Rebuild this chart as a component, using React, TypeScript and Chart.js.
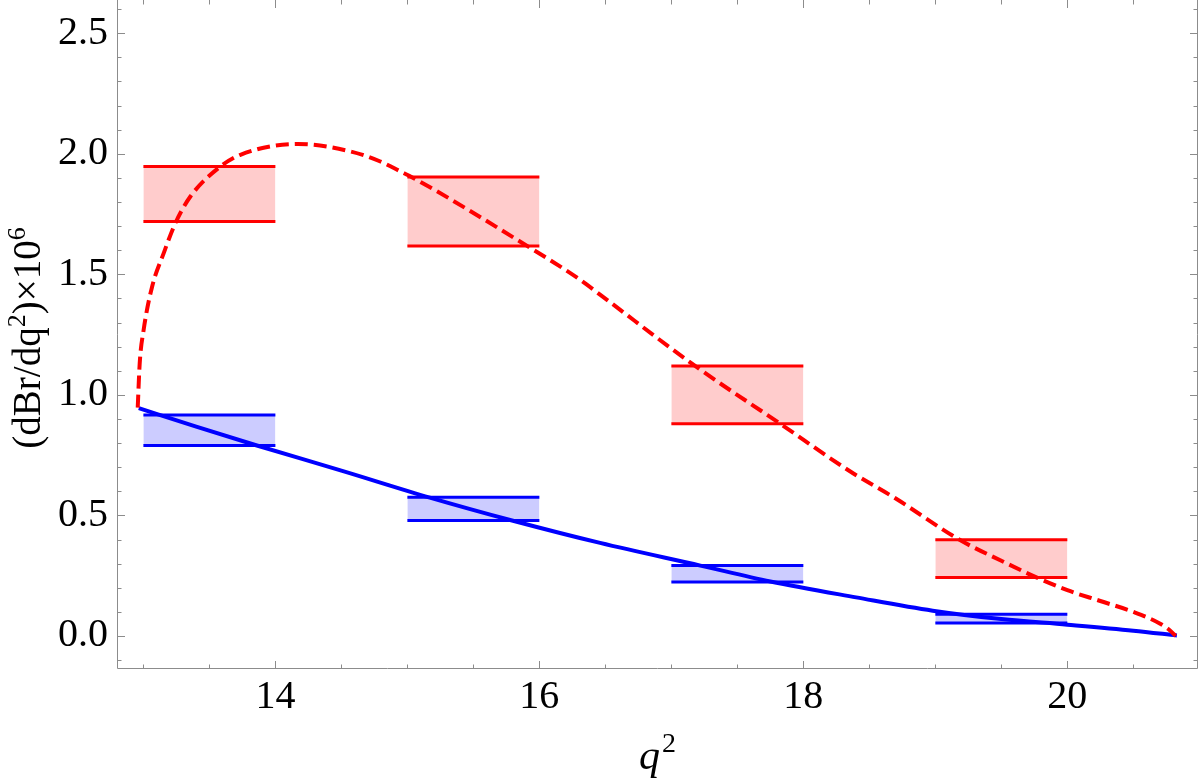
import React, { useEffect, useRef } from 'react';
import { Chart, registerables } from 'chart.js';

Chart.register(...registerables);

// ---- data ----
const binEdges: number[][] = [
  [13, 14],
  [15, 16],
  [17, 18],
  [19, 20],
];
const redUpper = [1.947, 1.904, 1.12, 0.399];
const redLower = [1.719, 1.618, 0.88, 0.243];
const blueUpper = [0.917, 0.575, 0.292, 0.09];
const blueLower = [0.79, 0.479, 0.224, 0.054];

const redCurveQ2 = [
  12.957, 12.972, 13.002, 13.066, 13.154, 13.242, 13.356, 13.583, 13.735, 14.17,
  14.568, 14.795, 14.947, 15.048, 15.907, 16.31, 16.462, 17.18, 17.826, 18.356,
  18.697, 19.19, 19.5, 19.77, 20.0, 20.25, 20.5, 20.7, 20.78, 20.82,
];
const redCurveVal = [
  0.947, 1.131, 1.27, 1.449, 1.588, 1.712, 1.823, 1.947, 1.996, 2.041,
  2.01, 1.968, 1.927, 1.899, 1.618, 1.477, 1.415, 1.12, 0.88, 0.682,
  0.571, 0.397, 0.312, 0.242, 0.19, 0.145, 0.1, 0.052, 0.022, 0.0,
];

const blueCurveQ2 = [
  12.965, 13.4, 13.86, 14.5, 15.17, 15.8, 16.46, 17.22, 17.75, 18.4,
  18.98, 19.5, 20.0, 20.5, 20.83,
];
const blueCurveVal = [
  0.945, 0.868, 0.79, 0.686, 0.574, 0.478, 0.386, 0.292, 0.226, 0.16,
  0.105, 0.07, 0.047, 0.022, 0.002,
];

const xMajorTicks = [14, 16, 18, 20];
const yMajorTicks = [0, 0.5, 1.0, 1.5, 2.0, 2.5];
const xRange = [12.8, 20.99];
const yRange = [-0.137, 2.638];
const xMinorStep = 0.5;
const yMinorStep = 0.1;

const FONT = '"Liberation Serif", "Times New Roman", serif';

const framePlugin = {
  id: 'mmaFrame',
  beforeDatasetsDraw(chart: any) {
    const { ctx, chartArea } = chart;
    const { left, right, top, bottom } = chartArea;
    const xs = chart.scales.x;
    const ys = chart.scales.y;
    ctx.save();
    ctx.strokeStyle = '#8c8c8c';
    ctx.lineWidth = 1;
    ctx.beginPath();
    ctx.moveTo(left + 0.5, top);
    ctx.lineTo(left + 0.5, bottom - 0.5);
    ctx.lineTo(right - 0.5, bottom - 0.5);
    ctx.lineTo(right - 0.5, top);
    ctx.stroke();
    ctx.beginPath();
    const isMajor = (v: number, arr: number[]) => arr.some((m) => Math.abs(m - v) < 1e-6);
    for (let v = Math.ceil(xRange[0] / xMinorStep) * xMinorStep; v <= xRange[1] + 1e-9; v += xMinorStep) {
      const px = Math.round(xs.getPixelForValue(v)) + 0.5;
      const len = isMajor(v, xMajorTicks) ? 8 : 4.5;
      ctx.moveTo(px, bottom);
      ctx.lineTo(px, bottom - len);
      ctx.moveTo(px, top);
      ctx.lineTo(px, top + len);
    }
    for (let i = Math.ceil(yRange[0] / yMinorStep); i * yMinorStep <= yRange[1] + 1e-9; i++) {
      const v = i * yMinorStep;
      const py = Math.round(ys.getPixelForValue(v)) + 0.5;
      const len = isMajor(v, yMajorTicks) ? 8 : 4.5;
      ctx.moveTo(left, py);
      ctx.lineTo(left + len, py);
      ctx.moveTo(right, py);
      ctx.lineTo(right - len, py);
    }
    ctx.stroke();
    ctx.restore();
  },
  afterDraw(chart: any) {
    const { ctx, chartArea } = chart;
    ctx.save();
    ctx.fillStyle = '#000';
    // x title: q^2
    const cx = (chartArea.left + chartArea.right) / 2;
    ctx.font = `italic 42px ${FONT}`;
    const qW = ctx.measureText('q').width;
    ctx.font = `28px ${FONT}`;
    const sW = ctx.measureText('2').width;
    const startX = cx - (qW + sW + 2) / 2;
    ctx.textBaseline = 'alphabetic';
    ctx.textAlign = 'left';
    ctx.font = `italic 42px ${FONT}`;
    ctx.fillText('q', startX, 769);
    ctx.font = `28px ${FONT}`;
    ctx.fillText('2', startX + qW + 2, 752);

    // y title: (dBr/dq^2)x10^6 rotated
    const parts: [string, boolean][] = [
      ['(dBr/dq', false],
      ['2', true],
      [')\u00d710', false],
      ['6', true],
    ];
    const big = `39px ${FONT}`;
    const small = `26px ${FONT}`;
    let total = 0;
    const widths = parts.map(([t, sup]) => {
      ctx.font = sup ? small : big;
      const w = ctx.measureText(t).width;
      total += w;
      return w;
    });
    const cy = 338;
    ctx.translate(40, cy);
    ctx.rotate(-Math.PI / 2);
    let x = -total / 2;
    parts.forEach(([t, sup], i) => {
      ctx.font = sup ? small : big;
      ctx.fillText(t, x, sup ? -15 : 0);
      x += widths[i];
    });
    ctx.restore();
  },
};

function boxDatasets(upper: number[], lower: number[], line: string, fillCol: string) {
  const out: any[] = [];
  binEdges.forEach(([a, b], i) => {
    out.push({
      data: [
        { x: a, y: upper[i] },
        { x: b, y: upper[i] },
      ],
      borderColor: line,
      borderWidth: 3,
      backgroundColor: fillCol,
      fill: '+1',
      pointRadius: 0,
      order: 2,
    });
    out.push({
      data: [
        { x: a, y: lower[i] },
        { x: b, y: lower[i] },
      ],
      borderColor: line,
      borderWidth: 3,
      fill: false,
      pointRadius: 0,
      order: 1,
    });
  });
  return out;
}

export default function App() {
  const ref = useRef<HTMLCanvasElement | null>(null);
  useEffect(() => {
    document.body.style.margin = '0';
    if (!ref.current) return;
    const datasets: any[] = [
      {
        data: redCurveQ2.map((q, i) => ({ x: q, y: redCurveVal[i] })),
        borderColor: '#ff0000',
        borderWidth: 4,
        borderDash: [13, 6],
        fill: false,
        pointRadius: 0,
        cubicInterpolationMode: 'monotone',
        order: 0,
      },
      {
        data: blueCurveQ2.map((q, i) => ({ x: q, y: blueCurveVal[i] })),
        borderColor: '#0000ff',
        borderWidth: 4,
        fill: false,
        pointRadius: 0,
        cubicInterpolationMode: 'monotone',
        order: 0,
      },
      ...boxDatasets(redUpper, redLower, '#ff0000', 'rgb(255,204,204)'),
      ...boxDatasets(blueUpper, blueLower, '#0000ff', 'rgb(204,204,255)'),
    ];
    const chart = new Chart(ref.current, {
      type: 'line',
      data: { datasets },
      options: {
        animation: false,
        responsive: false,
        devicePixelRatio: 1,
        layout: { padding: { top: 0, right: 2, bottom: 0, left: 0 } },
        plugins: { legend: { display: false }, tooltip: { enabled: false } },
        scales: {
          x: {
            type: 'linear',
            min: xRange[0],
            max: xRange[1],
            grid: { display: false, drawTicks: false },
            border: { display: false },
            afterBuildTicks: (s: any) => {
              s.ticks = xMajorTicks.map((v) => ({ value: v }));
            },
            afterFit: (s: any) => {
              s.height = 113;
              s.paddingLeft = 0;
              s.paddingRight = 0;
            },
            ticks: {
              autoSkip: false,
              maxRotation: 0,
              padding: 4,
              color: '#000',
              font: { family: FONT, size: 40 },
              callback: (v: any) => String(v),
            },
          },
          y: {
            type: 'linear',
            min: yRange[0],
            max: yRange[1],
            grid: { display: false, drawTicks: false },
            border: { display: false },
            afterBuildTicks: (s: any) => {
              s.ticks = yMajorTicks.map((v) => ({ value: v }));
            },
            afterFit: (s: any) => {
              s.width = 117;
              s.paddingTop = 0;
              s.paddingBottom = 0;
            },
            ticks: {
              padding: 9,
              color: '#000',
              font: { family: FONT, size: 40 },
              callback: (v: any) => Number(v).toFixed(1),
            },
          },
        },
      },
      plugins: [framePlugin],
    });
    return () => chart.destroy();
  }, []);
  return (
    <div style={{ width: 1200, height: 782, background: '#fff' }}>
      <canvas ref={ref} width={1200} height={782} style={{ display: 'block' }} />
    </div>
  );
}
